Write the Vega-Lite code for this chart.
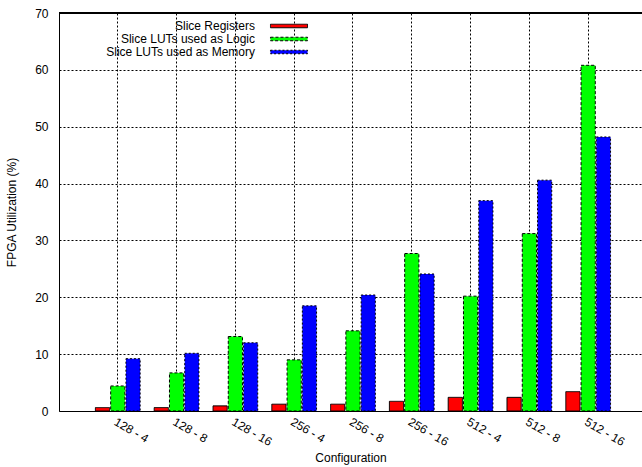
{
  "$schema": "https://vega.github.io/schema/vega-lite/v6.json",
  "width": 583,
  "height": 398,
  "autosize": {"type": "none"},
  "padding": {"left": 59, "top": 13, "right": 0, "bottom": 56},
  "background": "white",
  "config": {
    "view": {"stroke": null},
    "font": "Liberation Sans",
    "axis": {
      "labelFont": "Liberation Sans",
      "labelFontSize": 12,
      "labelColor": "black",
      "titleFont": "Liberation Sans",
      "titleFontSize": 12,
      "titleFontWeight": "normal",
      "titleColor": "black",
      "domainColor": "black",
      "domainWidth": 1,
      "tickSize": 0,
      "gridColor": "black",
      "gridOpacity": 1,
      "gridDash": [2, 2],
      "gridWidth": 1
    },
    "legend": {
      "labelFont": "Liberation Sans",
      "labelFontSize": 12,
      "labelColor": "black"
    }
  },
  "data": {
    "values": [
      {"config": "128 - 4", "series": "Slice Registers", "value": 0.6},
      {"config": "128 - 4", "series": "Slice LUTs used as Logic", "value": 4.4},
      {"config": "128 - 4", "series": "Slice LUTs used as Memory", "value": 9.2},
      {"config": "128 - 8", "series": "Slice Registers", "value": 0.6},
      {"config": "128 - 8", "series": "Slice LUTs used as Logic", "value": 6.7},
      {"config": "128 - 8", "series": "Slice LUTs used as Memory", "value": 10.15},
      {"config": "128 - 16", "series": "Slice Registers", "value": 0.9},
      {"config": "128 - 16", "series": "Slice LUTs used as Logic", "value": 13.1},
      {"config": "128 - 16", "series": "Slice LUTs used as Memory", "value": 12.0},
      {"config": "256 - 4", "series": "Slice Registers", "value": 1.2},
      {"config": "256 - 4", "series": "Slice LUTs used as Logic", "value": 9.0},
      {"config": "256 - 4", "series": "Slice LUTs used as Memory", "value": 18.5},
      {"config": "256 - 8", "series": "Slice Registers", "value": 1.2},
      {"config": "256 - 8", "series": "Slice LUTs used as Logic", "value": 14.1},
      {"config": "256 - 8", "series": "Slice LUTs used as Memory", "value": 20.4},
      {"config": "256 - 16", "series": "Slice Registers", "value": 1.7},
      {"config": "256 - 16", "series": "Slice LUTs used as Logic", "value": 27.7},
      {"config": "256 - 16", "series": "Slice LUTs used as Memory", "value": 24.1},
      {"config": "512 - 4", "series": "Slice Registers", "value": 2.4},
      {"config": "512 - 4", "series": "Slice LUTs used as Logic", "value": 20.2},
      {"config": "512 - 4", "series": "Slice LUTs used as Memory", "value": 37.0},
      {"config": "512 - 8", "series": "Slice Registers", "value": 2.4},
      {"config": "512 - 8", "series": "Slice LUTs used as Logic", "value": 31.2},
      {"config": "512 - 8", "series": "Slice LUTs used as Memory", "value": 40.6},
      {"config": "512 - 16", "series": "Slice Registers", "value": 3.4},
      {"config": "512 - 16", "series": "Slice LUTs used as Logic", "value": 60.8},
      {"config": "512 - 16", "series": "Slice LUTs used as Memory", "value": 48.2}
    ]
  },
  "layer": [
    {
      "mark": {"type": "bar", "stroke": "black", "strokeWidth": 1},
      "encoding": {
        "x": {
          "field": "config",
          "type": "nominal",
          "sort": null,
          "scale": {"paddingInner": 0, "paddingOuter": 0.4575, "align": 0.546},
          "axis": {
            "title": "Configuration",
            "labelAngle": 30,
            "labelAlign": "left",
            "labelBaseline": "top",
            "labelPadding": 5,
            "labelDx": 5.5,
            "labelDy": -2,
            "bandPosition": 0.5,
            "grid": true,
            "titlePadding": 5
          }
        },
        "xOffset": {
          "field": "series",
          "type": "nominal",
          "sort": ["Slice Registers", "Slice LUTs used as Logic", "Slice LUTs used as Memory"],
          "scale": {"paddingInner": 0.07, "paddingOuter": 0.46}
        },
        "y": {
          "field": "value",
          "type": "quantitative",
          "scale": {"domain": [0, 70], "nice": false},
          "axis": {
            "title": "FPGA Utilization (%)",
            "values": [0, 10, 20, 30, 40, 50, 60, 70],
            "grid": true,
            "labelPadding": 11,
            "titlePadding": 16
          }
        },
        "fill": {
          "field": "series",
          "type": "nominal",
          "scale": {
            "domain": ["Slice Registers", "Slice LUTs used as Logic", "Slice LUTs used as Memory"],
            "range": ["#ff0000", "#00ff00", "#0000ff"]
          },
          "legend": {
            "title": null,
            "orient": "none",
            "legendX": 223,
            "legendY": 6,
            "padding": 0,
            "rowPadding": 0,
            "symbolType": "M-2.85,-0.27H2.85V0.27H-2.85Z",
            "symbolSize": 169,
            "symbolStrokeColor": "black",
            "symbolStrokeWidth": 1,
            "symbolOpacity": 1,
            "labelAlign": "right",
            "labelOffset": -41,
            "encode": {
              "symbols": {"update": {"stroke": {"value": "black"}, "strokeWidth": {"value": 1}}}
            }
          }
        },
        "strokeDash": {
          "field": "series",
          "type": "nominal",
          "scale": {
            "domain": ["Slice Registers", "Slice LUTs used as Logic", "Slice LUTs used as Memory"],
            "range": [[1, 0], [3, 2], [2, 2]]
          },
          "legend": {
            "title": null,
            "orient": "none",
            "legendX": 223,
            "legendY": 6,
            "padding": 0,
            "rowPadding": 0,
            "symbolType": "M-2.85,-0.27H2.85V0.27H-2.85Z",
            "symbolSize": 169,
            "symbolStrokeColor": "black",
            "symbolStrokeWidth": 1,
            "symbolOpacity": 1,
            "labelAlign": "right",
            "labelOffset": -41,
            "encode": {
              "symbols": {"update": {"stroke": {"value": "black"}, "strokeWidth": {"value": 1}}}
            }
          }
        }
      }
    },
    {
      "mark": {"type": "rule", "color": "black", "strokeWidth": 1},
      "encoding": {"y": {"datum": 70}}
    }
  ]
}
